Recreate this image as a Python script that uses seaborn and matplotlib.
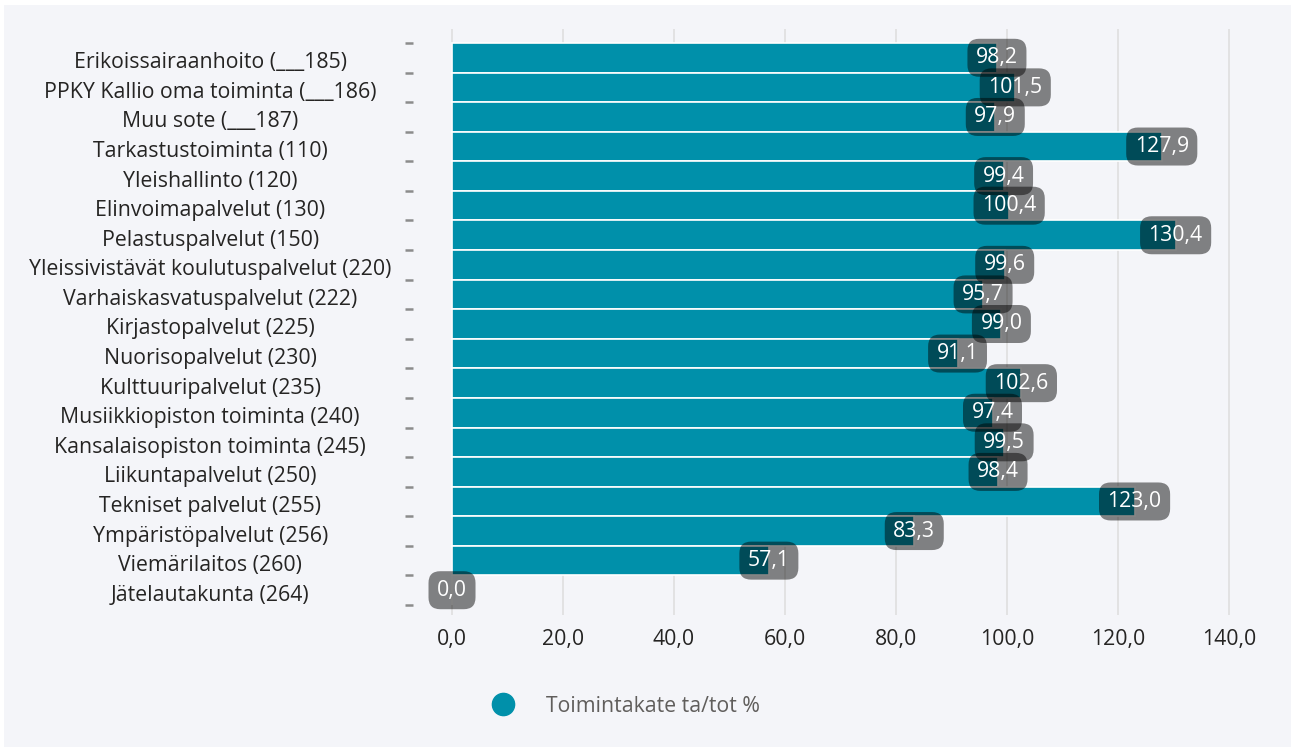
import matplotlib
matplotlib.use("Agg")
import matplotlib.pyplot as plt
import matplotlib.transforms as mtransforms
from matplotlib.ticker import FuncFormatter, FixedLocator
from matplotlib.lines import Line2D
import seaborn as sns
import pandas as pd

categories = [
    "Erikoissairaanhoito (___185)",
    "PPKY Kallio oma toiminta (___186)",
    "Muu sote (___187)",
    "Tarkastustoiminta (110)",
    "Yleishallinto (120)",
    "Elinvoimapalvelut (130)",
    "Pelastuspalvelut (150)",
    "Yleissivistävät koulutuspalvelut (220)",
    "Varhaiskasvatuspalvelut (222)",
    "Kirjastopalvelut (225)",
    "Nuorisopalvelut (230)",
    "Kulttuuripalvelut (235)",
    "Musiikkiopiston toiminta (240)",
    "Kansalaisopiston toiminta (245)",
    "Liikuntapalvelut (250)",
    "Tekniset palvelut (255)",
    "Ympäristöpalvelut (256)",
    "Viemärilaitos (260)",
    "Jätelautakunta (264)",
]
values = [98.2, 101.5, 97.9, 127.9, 99.4, 100.4, 130.4, 99.6, 95.7, 99.0,
          91.1, 102.6, 97.4, 99.5, 98.4, 123.0, 83.3, 57.1, 0.0]
x_ticks = [0, 20, 40, 60, 80, 100, 120, 140]
series_name = "Toimintakate ta/tot %"

BG = "#F4F5F9"
BAR = "#0090AA"
TEXT = "#252423"
FS = 15.3

sns.set_theme(style="white")
plt.rcParams["font.family"] = ["Open Sans", "DejaVu Sans"]

df = pd.DataFrame({"category": categories, "value": values})

W, H = 1291, 747
fig = plt.figure(figsize=(W / 100, H / 100), dpi=100)
fig.patch.set_facecolor("white")
# light panel behind the chart
panel = plt.Rectangle((4 / W, 0), 1 - 4 / W, 1 - 5 / H, transform=fig.transFigure,
                      facecolor=BG, edgecolor="none", zorder=-10)
fig.patches.append(panel)

left, right, top, bottom = 413, 1240, 29, 615
ax = fig.add_axes([left / W, 1 - bottom / H, (right - left) / W, (bottom - top) / H])
ax.set_facecolor(BG)

sns.barplot(data=df, x="value", y="category", orient="h", color=BAR,
            saturation=1, width=1.0, edgecolor="white", linewidth=1.2,
            ax=ax, zorder=2)

n = len(categories)
px_per_unit = 29.58
ax.set_ylim(n - 0.5 + 10 / px_per_unit, -0.5 - 14 / px_per_unit)
ax.set_xlim(-7.03, 142)

ax.set_xticks(x_ticks)
ax.xaxis.set_major_formatter(FuncFormatter(lambda v, p: f"{v:.1f}".replace(".", ",")))
ax.grid(axis="x", color="#E1E1E1", linewidth=1.3, zorder=0)
ax.set_axisbelow(True)
for s in ax.spines.values():
    s.set_visible(False)

ax.tick_params(axis="x", length=0, pad=10, labelsize=FS, labelcolor=TEXT)
ax.set_yticks(range(n))
ax.set_yticklabels(categories)
ax.tick_params(axis="y", which="major", length=0, pad=146, labelsize=FS, labelcolor=TEXT)
shift_down = mtransforms.ScaledTranslation(0, -2.5 / 100, fig.dpi_scale_trans)
for lab in ax.get_yticklabels():
    lab.set_horizontalalignment("center")
    lab.set_transform(lab.get_transform() + shift_down)
ax.yaxis.set_minor_locator(FixedLocator([i - 0.5 for i in range(n + 1)]))
ax.tick_params(axis="y", which="minor", length=5.5, width=1.8, color="#8C8C8C", left=True)
ax.set_xlabel("")
ax.set_ylabel("")

# value labels in rounded translucent boxes at the bar ends
for i, v in enumerate(values):
    ax.text(v, i, f"{v:.1f}".replace(".", ","), ha="center", va="center",
            color="white", fontsize=FS, zorder=5,
            bbox=dict(boxstyle="round,pad=0.4,rounding_size=0.55",
                      facecolor="black", alpha=0.48, edgecolor="none"))

handle = Line2D([], [], marker="o", linestyle="none", markersize=16,
                markerfacecolor=BAR, markeredgecolor=BAR)
leg = fig.legend([handle], [series_name], loc="center",
                 bbox_to_anchor=(621 / W, 1 - 706 / H), frameon=False,
                 fontsize=FS, handletextpad=1.0, labelcolor="#605E5C")

fig.savefig("out.png", dpi=100, facecolor=fig.get_facecolor())
